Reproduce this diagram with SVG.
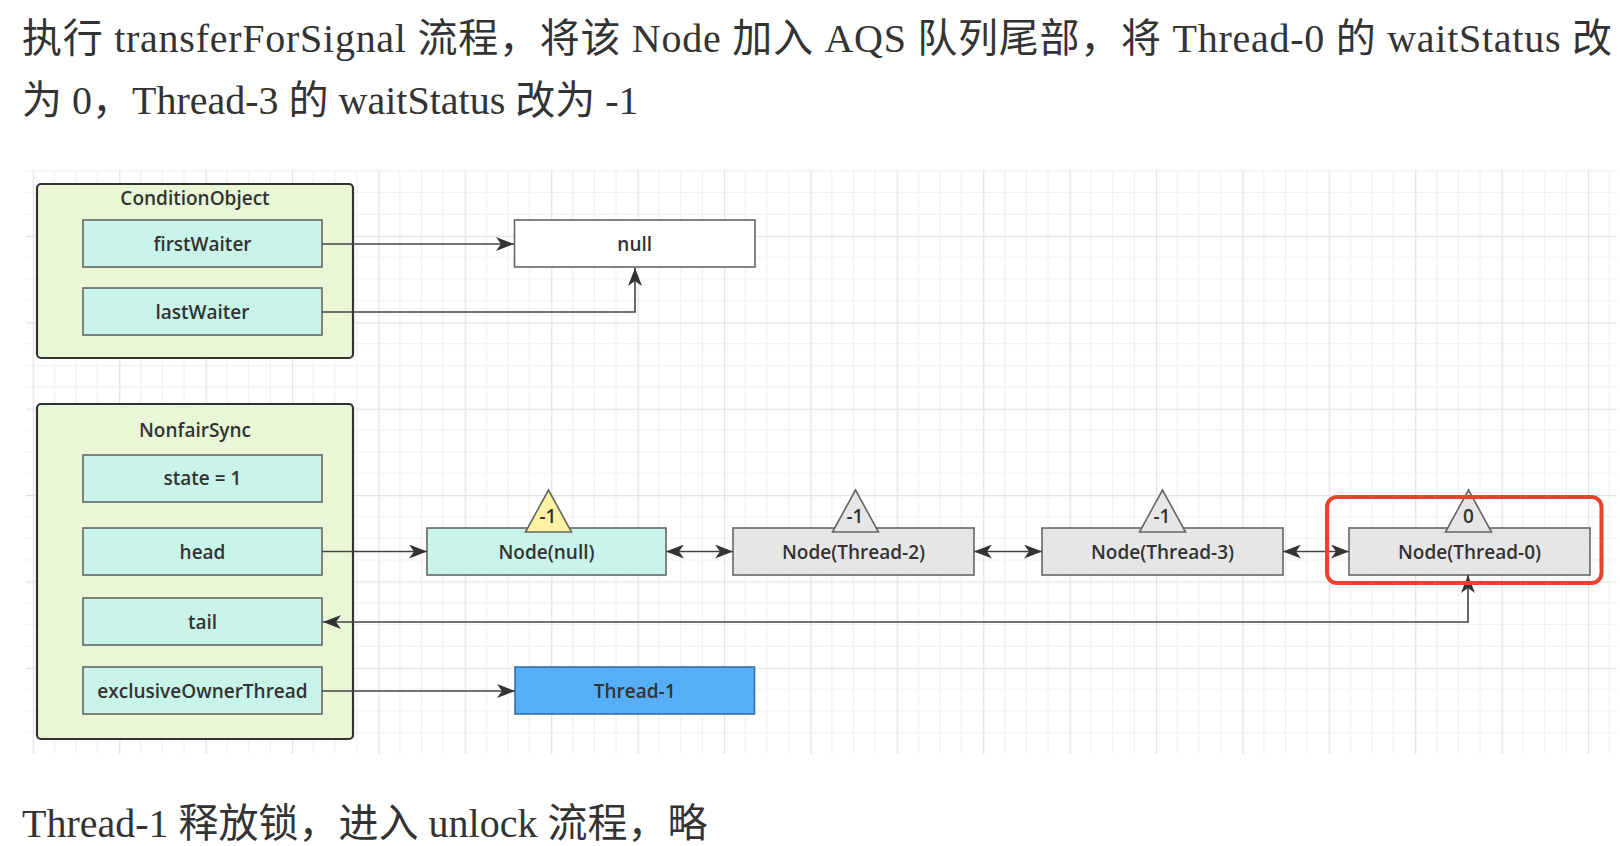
<svg xmlns="http://www.w3.org/2000/svg" width="1620" height="846" viewBox="0 0 1620 846">
<style>
.t{font-family:"Liberation Serif","Noto Sans CJK SC",serif;font-size:40px;fill:#333}
.lbl{font-family:"Open Sans","Noto Sans",sans-serif;font-size:19px;font-weight:600;fill:#333;text-anchor:middle;dominant-baseline:central}
.grp{fill:#e9f7d6;stroke:#333;stroke-width:2.2}
.fld{fill:#c8f4ea;stroke:#666;stroke-width:1.6}
.gry{fill:#e6e6e6;stroke:#666;stroke-width:1.6}
.wht{fill:#fff;stroke:#666;stroke-width:1.6}
.blu{fill:#56aef6;stroke:#3a6fa8;stroke-width:1.6}
.tri{stroke:#666;stroke-width:1.6}
.ln{fill:none;stroke:#444;stroke-width:1.6}
</style>
<defs>
<pattern id="grid" patternUnits="userSpaceOnUse" x="32.7" y="63" width="86.4" height="86.4">
<path d="M21.6 0V86.4M43.2 0V86.4M64.8 0V86.4M0 21.6H86.4M0 43.2H86.4M0 64.8H86.4" stroke="#f0f0f0" stroke-width="1.2" fill="none"/>
<path d="M0.6 0V86.4M0 0.6H86.4" stroke="#e3e3e3" stroke-width="1.4" fill="none"/>
</pattern>
<marker id="ae" markerUnits="userSpaceOnUse" markerWidth="20" markerHeight="14" refX="18" refY="7" orient="auto">
<path d="M0 0L18 7L0 14L5 7Z" fill="#333"/>
</marker>
<marker id="as" markerUnits="userSpaceOnUse" markerWidth="20" markerHeight="14" refX="18" refY="7" orient="auto-start-reverse">
<path d="M0 0L18 7L0 14L5 7Z" fill="#333"/>
</marker>
</defs>
<rect width="1620" height="846" fill="#fff"/>
<rect x="26" y="170" width="1591" height="584" fill="url(#grid)"/>

<text class="t" x="22" y="52" textLength="1590" lengthAdjust="spacing">执行 transferForSignal 流程，将该 Node 加入 AQS 队列尾部，将 Thread-0 的 waitStatus 改</text>
<text class="t" x="22" y="114">为 0，Thread-3 的 waitStatus 改为 -1</text>
<text class="t" x="22" y="837">Thread-1 释放锁，进入 unlock 流程，略</text>

<g id="conditionObject">
<rect class="grp" x="37" y="184" width="316" height="174" rx="4"/>
<text class="lbl" x="195" y="198">ConditionObject</text>
</g>
<g id="firstWaiter"><rect class="fld" x="83" y="220" width="239" height="47"/><text class="lbl" x="202.5" y="244">firstWaiter</text></g>
<g id="lastWaiter"><rect class="fld" x="83" y="288" width="239" height="47"/><text class="lbl" x="202.5" y="312">lastWaiter</text></g>
<g id="null"><rect class="wht" x="514.5" y="220" width="240.5" height="47"/><text class="lbl" x="634.7" y="244">null</text></g>

<g id="nonfairSync">
<rect class="grp" x="37" y="404" width="316" height="335" rx="4"/>
<text class="lbl" x="195" y="430">NonfairSync</text>
</g>
<g id="state"><rect class="fld" x="83" y="455" width="239" height="47"/><text class="lbl" x="202.5" y="478">state = 1</text></g>
<g id="head"><rect class="fld" x="83" y="528" width="239" height="47"/><text class="lbl" x="202.5" y="551.5">head</text></g>
<g id="tail"><rect class="fld" x="83" y="598" width="239" height="47"/><text class="lbl" x="202.5" y="622">tail</text></g>
<g id="exclusiveOwnerThread"><rect class="fld" x="83" y="667" width="239" height="47"/><text class="lbl" x="202.5" y="691">exclusiveOwnerThread</text></g>
<g id="thread1"><rect class="blu" x="515" y="667" width="239.5" height="47"/><text class="lbl" x="634.7" y="691">Thread-1</text></g>

<g id="nodeNull">
<rect class="fld" x="427" y="528" width="239" height="47"/>
<text class="lbl" x="546.5" y="551.5">Node(null)</text>
<path class="tri" d="M548.5 490L571.5 532H525.5Z" fill="#fff3a3"/>
<text class="lbl" x="548" y="516" font-size="15">-1</text>
</g>
<g id="nodeThread2">
<rect class="gry" x="733" y="528" width="241" height="47"/>
<text class="lbl" x="853.5" y="551.5">Node(Thread-2)</text>
<path class="tri" d="M855.5 490L878.5 532H832.5Z" fill="#e6e6e6"/>
<text class="lbl" x="855" y="516" font-size="15">-1</text>
</g>
<g id="nodeThread3">
<rect class="gry" x="1042" y="528" width="241" height="47"/>
<text class="lbl" x="1162.5" y="551.5">Node(Thread-3)</text>
<path class="tri" d="M1162.5 490L1185.5 532H1139.5Z" fill="#e6e6e6"/>
<text class="lbl" x="1162" y="516" font-size="15">-1</text>
</g>
<g id="nodeThread0">
<rect class="gry" x="1349" y="528" width="241" height="47"/>
<text class="lbl" x="1469.5" y="551.5">Node(Thread-0)</text>
<path class="tri" d="M1468.5 490L1491.5 532H1445.5Z" fill="#e6e6e6"/>
<text class="lbl" x="1468.5" y="516" font-size="15">0</text>
</g>

<g id="connectors">
<path class="ln" d="M322 244H514" marker-end="url(#ae)"/>
<path class="ln" d="M322 312H635V268" marker-end="url(#ae)"/>
<path class="ln" d="M322 551.5H427" marker-end="url(#ae)"/>
<path class="ln" d="M666 551.5H733" marker-start="url(#as)" marker-end="url(#ae)"/>
<path class="ln" d="M974 551.5H1042" marker-start="url(#as)" marker-end="url(#ae)"/>
<path class="ln" d="M1283 551.5H1349" marker-start="url(#as)" marker-end="url(#ae)"/>
<path class="ln" d="M1468 575V622H323" marker-start="url(#as)" marker-end="url(#ae)"/>
<path class="ln" d="M322 691H515" marker-end="url(#ae)"/>
</g>

<g id="highlight">
<rect x="1327" y="497" width="274.5" height="86" rx="10" fill="none" stroke="#e8432b" stroke-width="4"/>
</g>
</svg>
